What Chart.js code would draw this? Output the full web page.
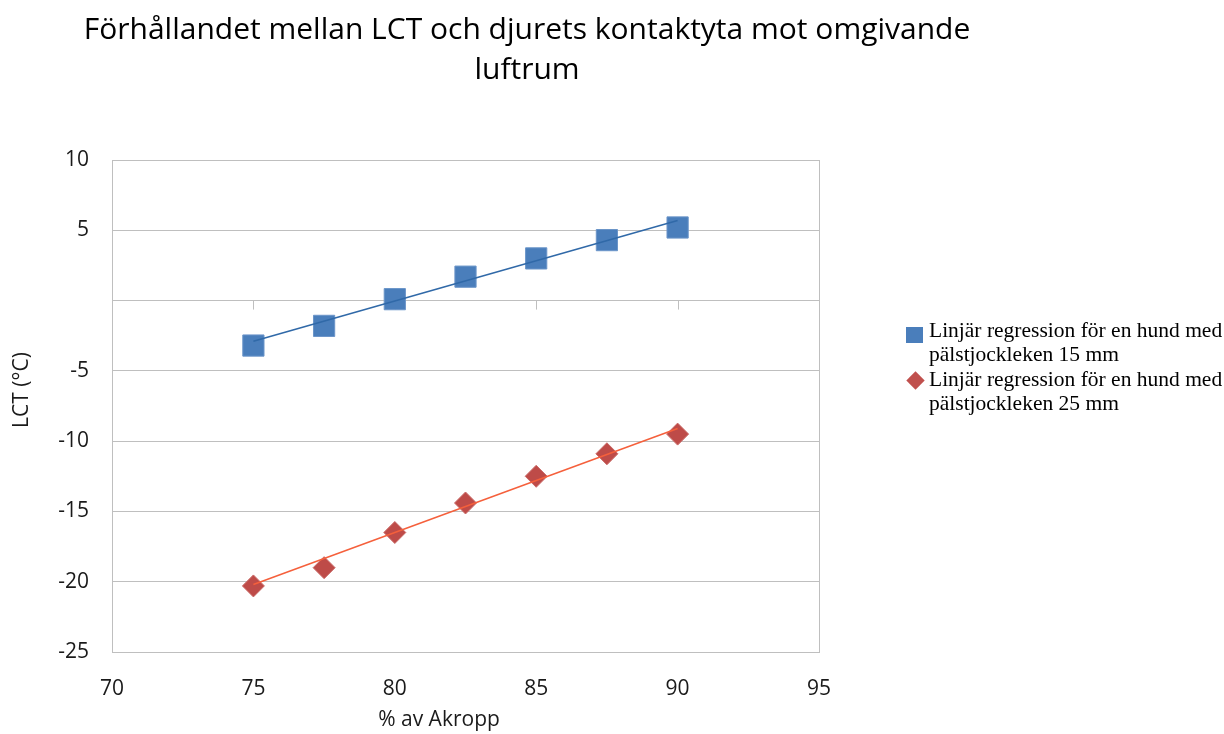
<!DOCTYPE html>
<html>
<head>
<meta charset="utf-8">
<script src="https://cdn.jsdelivr.net/npm/chart.js@4.4.0/dist/chart.umd.min.js"></script>
<style>
  body { margin: 0; background: #fff; }
  #wrap { position: relative; width: 1224px; height: 734px; }
  #chart { position: absolute; left: 0; top: 0; }
  .legend { position: absolute; left: 906px; top: 318px; font-family: "Liberation Serif", "Times New Roman", serif; font-size: 21.5px; line-height: 24.3px; color: #000; white-space: nowrap; }
  .legend .item { position: relative; padding-left: 23px; }
  .legend .sq { position: absolute; left: 0; top: 9px; width: 17px; height: 16px; background: #4a7ebb; }
  .legend .dia { position: absolute; left: 3px; top: 7px; width: 13px; height: 13px; background: #c0504d; transform: rotate(45deg); }
</style>
</head>
<body>
<div id="wrap">
  <canvas id="chart" width="1054" height="734"></canvas>
  <div class="legend">
    <div class="item"><span class="sq"></span>Linjär regression för en hund med<br>pälstjockleken 15 mm</div>
    <div class="item"><span class="dia"></span>Linjär regression för en hund med<br>pälstjockleken 25 mm</div>
  </div>
</div>
<script>
// data
const xValues = [75, 77.5, 80, 82.5, 85, 87.5, 90];
const lct15 = [-3.2, -1.8, 0.1, 1.7, 3.0, 4.3, 5.2];
const lct25 = [-20.3, -19.0, -16.5, -14.4, -12.5, -10.9, -9.5];
const trendX = [75, 90];
const trend15 = [-2.9, 5.7];
const trend25 = [-20.2, -9.1];
const xRange = [70, 95];
const yRange = [-25, 10];
const tickStep = 5;

const gridColor = "#bfbfbf";
const textColor = "#1a1a1a";
const sans = "'Open Sans', sans-serif";

const toPoints = (xs, ys) => xs.map((x, i) => ({ x: x, y: ys[i] }));

// tick marks where the x axis crosses y = 0, plus axis titles
const extras = {
  id: "extras",
  beforeDatasetsDraw(chart) {
    const { ctx, scales } = chart;
    const y0 = scales.y.getPixelForValue(0);
    ctx.save();
    ctx.strokeStyle = gridColor;
    ctx.lineWidth = 1;
    for (let v = xRange[0] + tickStep; v < xRange[1]; v += tickStep) {
      const px = Math.round(scales.x.getPixelForValue(v)) + 0.5;
      ctx.beginPath();
      ctx.moveTo(px, y0);
      ctx.lineTo(px, y0 + 9);
      ctx.stroke();
    }
    ctx.restore();
  },
  afterDraw(chart) {
    const { ctx } = chart;
    ctx.save();
    ctx.fillStyle = textColor;
    ctx.textAlign = "center";
    ctx.textBaseline = "middle";
    ctx.font = "21px " + sans;
    ctx.fillText("% av Akropp", 439, 720);
    ctx.translate(22, 390);
    ctx.rotate(-Math.PI / 2);
    ctx.fillText("LCT (°C)", 0, 0);
    ctx.restore();
  }
};

new Chart(document.getElementById("chart"), {
  type: "scatter",
  data: {
    datasets: [
      {
        label: "Linjär regression för en hund med pälstjockleken 15 mm",
        data: toPoints(xValues, lct15),
        pointStyle: "rect",
        pointRadius: 15,
        backgroundColor: "#4a7ebb",
        borderColor: "#6b95c9",
        borderWidth: 1,
        order: 1
      },
      {
        label: "Linjär regression för en hund med pälstjockleken 25 mm",
        data: toPoints(xValues, lct25),
        pointStyle: "rectRot",
        pointRadius: 11,
        backgroundColor: "#be4b48",
        borderColor: "#c96a67",
        borderWidth: 1,
        order: 1
      },
      {
        label: "trend 15",
        data: toPoints(trendX, trend15),
        showLine: true,
        pointRadius: 0,
        borderColor: "#3069a8",
        borderWidth: 1.5,
        order: 0
      },
      {
        label: "trend 25",
        data: toPoints(trendX, trend25),
        showLine: true,
        pointRadius: 0,
        borderColor: "#f5603c",
        borderWidth: 1.5,
        order: 0
      }
    ]
  },
  options: {
    responsive: false,
    animation: false,
    layout: { padding: 0 },
    plugins: {
      legend: { display: false },
      tooltip: { enabled: false },
      title: {
        display: true,
        text: ["Förhållandet mellan LCT och djurets kontaktyta mot omgivande", "luftrum"],
        color: "#000",
        font: { family: sans, size: 30, weight: "normal", lineHeight: 1.35 },
        padding: { top: 10, bottom: 69 }
      }
    },
    scales: {
      x: {
        type: "linear",
        min: xRange[0],
        max: xRange[1],
        ticks: { stepSize: tickStep, color: textColor, padding: 24, font: { family: sans, size: 21 } },
        grid: {
          drawTicks: false,
          color: (c) => (c.tick && c.tick.value === xRange[1] ? gridColor : "transparent")
        },
        border: { display: true, color: gridColor },
        afterFit: (s) => { s.height = 82; }
      },
      y: {
        min: yRange[0],
        max: yRange[1],
        ticks: {
          stepSize: tickStep,
          color: textColor,
          padding: 23,
          font: { family: sans, size: 21 },
          callback: (v) => (v === 0 ? "" : v)
        },
        grid: { drawTicks: false, color: gridColor },
        border: { display: true, color: gridColor },
        afterFit: (s) => { s.width = 112; }
      },
      spacer: {
        position: "right",
        display: true,
        min: 0,
        max: 1,
        ticks: { display: false },
        grid: { display: false },
        border: { display: false },
        afterFit: (s) => { s.width = 235; }
      }
    }
  },
  plugins: [extras]
});
</script>
</body>
</html>
